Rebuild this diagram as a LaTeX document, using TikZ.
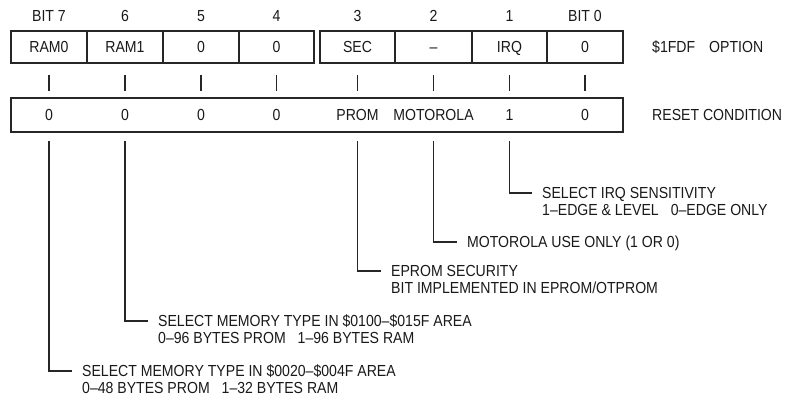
\documentclass[tikz,border=0pt]{standalone}
\usepackage{fontspec}
\setmainfont{Liberation Sans}[FakeStretch=0.88]
\begin{document}
\begin{tikzpicture}[x=1pt,y=-1pt,
  lbl/.style={font=\fontsize{16}{18}\selectfont, inner sep=0pt, text height=11.4pt, text depth=0pt, text=black!90},
  cell/.style={lbl, draw=black!85, line width=1.3pt, minimum height=32pt},
  regbox/.style={draw=black!85, line width=1.3pt, minimum width=612pt, minimum height=34pt, inner sep=0pt},
  conn/.style={draw=black!85, line width=1.15pt},
  desc/.style={lbl, anchor=west}]
\useasboundingbox (0,0) rectangle (786,397);
% header
\node[lbl] (h7) at (49,16) {BIT 7};
\node[lbl] (h6) at (125,16) {6};
\node[lbl] (h5) at (201,16) {5};
\node[lbl] (h4) at (276.5,16) {4};
\node[lbl] (h3) at (357.5,16) {3};
\node[lbl] (h2) at (433.5,16) {2};
\node[lbl] (h1) at (509.5,16) {1};
\node[lbl] (h0) at (585,16) {BIT 0};
% option register cells
\node[cell, minimum width=76pt] (c7) at (49,47) {RAM0};
\node[cell, minimum width=76pt] (c6) at (125,47) {RAM1};
\node[cell, minimum width=76pt] (c5) at (201,47) {0};
\node[cell, minimum width=75pt] (c4) at (276.5,47) {0};
\node[cell, minimum width=75pt] (c3) at (357.5,47) {SEC};
\node[cell, minimum width=77pt] (c2) at (433.5,47) {–};
\node[cell, minimum width=75pt] (c1) at (509.5,47) {IRQ};
\node[cell, minimum width=76pt] (c0) at (585,47) {0};
\node[desc] (opt) at (652,47) {\$1FDF\hspace{14pt}OPTION};
% ticks
\foreach \c in {c7,c6,c5,c4,c3,c2,c1,c0}
  \draw[conn] ([yshift=-11pt]\c.south) -- ([yshift=-27pt]\c.south);
% reset register
\node[regbox] (rst) at (317,115) {};
\node[lbl] (r7) at (49,115) {0};
\node[lbl] (r6) at (125,115) {0};
\node[lbl] (r5) at (201,115) {0};
\node[lbl] (r4) at (276.5,115) {0};
\node[lbl] (r3) at (357.5,115) {PROM};
\node[lbl] (r2) at (433.5,115) {MOTOROLA};
\node[lbl] (r1) at (509.5,115) {1};
\node[lbl] (r0) at (585,115) {0};
\node[desc] (rc) at (652,115) {RESET CONDITION};
% descriptions
\node[desc] (d1a) at (542,193) {SELECT IRQ SENSITIVITY};
\node[desc] (d1b) at (542,210) {1–EDGE \& LEVEL\hspace{12pt}0–EDGE ONLY};
\node[desc] (d2) at (467,242) {MOTOROLA USE ONLY (1 OR 0)};
\node[desc] (d3a) at (391,271) {EPROM SECURITY};
\node[desc] (d3b) at (391,288) {BIT IMPLEMENTED IN EPROM/OTPROM};
\node[desc] (d6a) at (158,321) {SELECT MEMORY TYPE IN \$0100–\$015F AREA};
\node[desc] (d6b) at (158,338) {0–96 BYTES PROM\hspace{12pt}1–96 BYTES RAM};
\node[desc] (d7a) at (82,371) {SELECT MEMORY TYPE IN \$0020–\$004F AREA};
\node[desc] (d7b) at (82,388) {0–48 BYTES PROM\hspace{12pt}1–32 BYTES RAM};
% connectors
\draw[conn] ([yshift=-20pt]r1.south) |- ([xshift=-10pt]d1a.west);
\draw[conn] ([yshift=-20pt]r2.south) |- ([xshift=-10pt]d2.west);
\draw[conn] ([yshift=-20pt]r3.south) |- ([xshift=-10pt]d3a.west);
\draw[conn] ([yshift=-20pt]r6.south) |- ([xshift=-10pt]d6a.west);
\draw[conn] ([yshift=-20pt]r7.south) |- ([xshift=-10pt]d7a.west);
\end{tikzpicture}
\end{document}
